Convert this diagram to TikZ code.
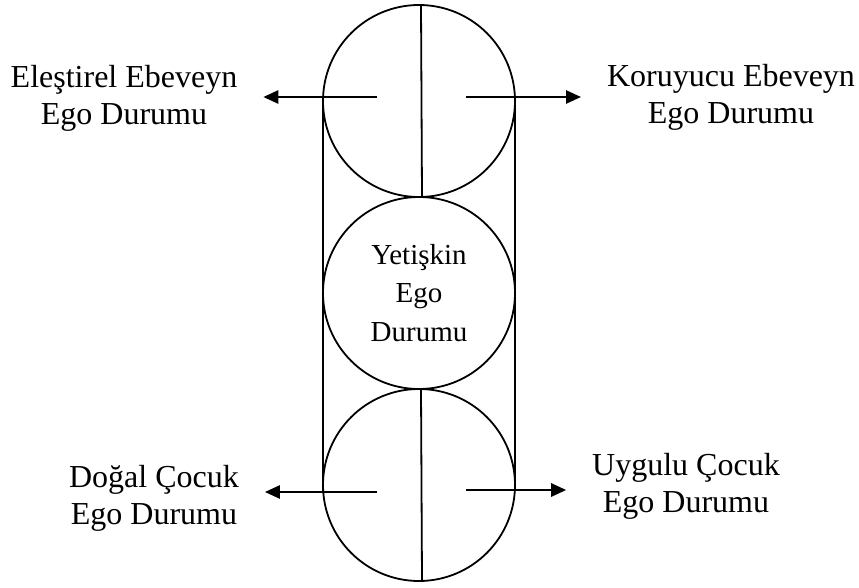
\documentclass[tikz,border=0pt]{standalone}
\usepackage{fontspec}
\setmainfont{Liberation Serif}
\usetikzlibrary{positioning,arrows.meta}

\begin{document}
\begin{tikzpicture}[
        x=1pt, y=-1pt,
        >={Triangle[length=15pt,width=13pt]},
        line width=2pt,
        ego/.style={circle, draw, line width=1.8pt, minimum size=192pt, inner sep=0pt, outer sep=0pt},
        lbl/.style={align=center, inner sep=0pt, font=\fontsize{32}{37}\selectfont},
        pointer/.style={->, line width=2.6pt, shorten >=25pt}
        ]
        \useasboundingbox (0,0) rectangle (859,588);
        \node[ego] (parent) at (419,101) {};
        \node[ego, align=center, font=\fontsize{29}{38.5}\selectfont] (adult) [below=0pt of parent] {Yetişkin\\Ego\\Durumu};
        \node[ego] (child) [below=0pt of adult] {};

        \node[lbl] (critical) at (124,98) {Eleştirel Ebeveyn\\Ego Durumu};
        \node[lbl] (nurturing) at (731,97) {Koruyucu Ebeveyn\\Ego Durumu};
        \node[lbl] (free) at (154,498) {Doğal Çocuk\\Ego Durumu};
        \node[lbl] (adapted) at (686,486) {Uygulu Çocuk\\Ego Durumu};

        \coordinate (pl) at (377,97);
        \coordinate (pr) at (466,97);
        \coordinate (cl) at (377,492);
        \coordinate (cr) at (466,490);

        % dividers
        \draw[line width=1.8pt] ([xshift=2pt]parent.north) -- ([xshift=3pt]parent.south);
        \draw[line width=1.8pt] ([xshift=2pt]child.north) -- ([xshift=3pt]child.south);

        % sides
        \draw (parent.west |- pl) -- (child.west |- cl);
        \draw (parent.east |- pr) -- (child.east |- cr);

        \draw[pointer] (pl) -- (pl -| critical.east);
        \draw[pointer] (pr) -- (pr -| nurturing.west);
        \draw[pointer] (cl) -- (cl -| free.east);
        \draw[pointer] (cr) -- (cr -| adapted.west);
\end{tikzpicture}
\end{document}
